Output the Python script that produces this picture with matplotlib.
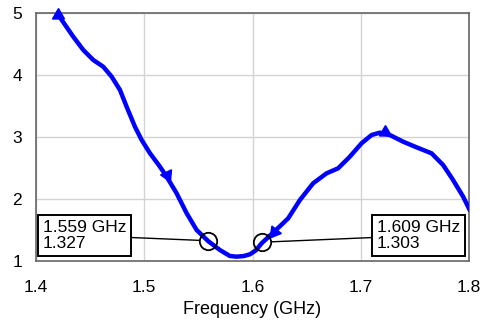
import matplotlib
matplotlib.use('Agg')
import matplotlib.pyplot as plt

plt.rcParams['font.family'] = ['Liberation Sans', 'DejaVu Sans']

### curve
freq = [1.4206, 1.4344, 1.4437, 1.4529, 1.4621, 1.4699, 1.4776, 1.4837, 1.4914, 1.4976,
        1.5053, 1.5145, 1.5207, 1.5299, 1.5392, 1.5484, 1.5591, 1.5699, 1.5791, 1.5853,
        1.5920, 1.5976, 1.6030, 1.6084, 1.6161, 1.6253, 1.6330, 1.6438, 1.6560, 1.6684,
        1.6791, 1.6899, 1.7007, 1.7100, 1.7176, 1.7269, 1.7392, 1.7515, 1.7654, 1.7761,
        1.7853, 1.7946, 1.8007]
vswr = [4.968, 4.618, 4.403, 4.242, 4.134, 3.973, 3.758, 3.489, 3.166, 2.952,
        2.737, 2.521, 2.360, 2.092, 1.769, 1.500, 1.320, 1.177, 1.081, 1.070,
        1.080, 1.108, 1.170, 1.285, 1.410, 1.560, 1.689, 1.984, 2.253, 2.414,
        2.495, 2.682, 2.898, 3.032, 3.070, 3.032, 2.924, 2.834, 2.737, 2.548,
        2.306, 2.037, 1.820]

# direction markers (freq, value, rotation)
arrow_f = [1.4206, 1.5207, 1.6200, 1.7223]
arrow_v = [4.968, 2.390, 1.470, 3.085]
arrow_rot = [0, 205, 142, 0]

# marker readouts
mark_f = [1.559, 1.609]
mark_v = [1.327, 1.303]
mark_txt = ['1.559 GHz\n1.327', '1.609 GHz\n1.303']
box_f = [1.4065, 1.7149]
box_v = [1.41, 1.41]

fig = plt.figure(figsize=(4.83, 3.21), dpi=100)
ax = fig.add_axes([36/483, 1-261/321, 433/483, 248/321])

ax.plot(freq, vswr, color='#0000ff', lw=3.2, solid_capstyle='round',
        solid_joinstyle='round', zorder=3)
for f, v, r in zip(arrow_f, arrow_v, arrow_rot):
    ax.plot(f, v, marker=(3, 0, r), ms=10, color='#0000ff', zorder=4, clip_on=False)

ax.plot(mark_f, mark_v, 'o', ms=12.5, mfc='none', mec='black', mew=1.3, zorder=5)
for f, v, t, bx, by in zip(mark_f, mark_v, mark_txt, box_f, box_v):
    ax.annotate(t, xy=(f, v), xytext=(bx, by), fontsize=12.5, ha='left', va='center',
                linespacing=1.15,
                bbox=dict(boxstyle='square,pad=0.27', fc='white', ec='black', lw=1.4),
                arrowprops=dict(arrowstyle='-', color='black', lw=1, shrinkA=0, shrinkB=6.5),
                zorder=6)

ax.set_xlim(1.4, 1.8)
ax.set_ylim(1, 5)
ax.set_xticks([1.4, 1.5, 1.6, 1.7, 1.8])
ax.set_yticks([1, 2, 3, 4, 5])
ax.set_xticklabels(['1.4', '1.5', '1.6', '1.7', '1.8'])
ax.grid(True, color='#d3d3d3', lw=1)
ax.set_axisbelow(True)
ax.tick_params(length=0, labelsize=12.5)
ax.tick_params(axis='x', pad=14)
ax.tick_params(axis='y', pad=10)
for s in ax.spines.values():
    s.set_color('#666666')
    s.set_linewidth(1.2)
ax.set_xlabel('Frequency (GHz)', fontsize=13, labelpad=4)

plt.savefig('out.png', dpi=100)
